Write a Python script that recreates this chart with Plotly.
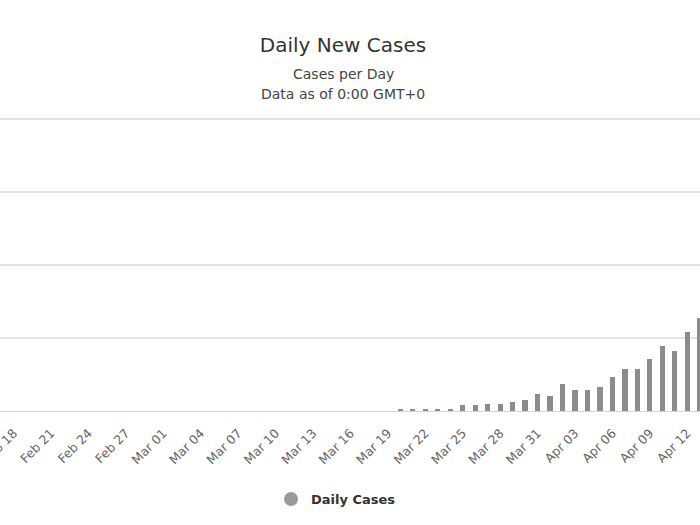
import plotly.graph_objects as go
import pandas as pd

dates = pd.date_range("2020-03-20", "2020-04-13", freq="D").strftime("%Y-%m-%d").tolist()
daily_cases = [23, 23, 23, 23, 23, 78, 78, 96, 96, 127, 147, 233, 201, 374, 288, 288,
               325, 466, 571, 571, 708, 886, 818, 1078, 1270]

series_name = "Daily Cases"
title_text = "Daily New Cases"
subtitle_lines = ["Cases per Day", "Data as of 0:00 GMT+0"]

FONT = "DejaVu Sans"
DAY_MS = 86400000
CX = 343 / 700

fig = go.Figure()
fig.add_trace(go.Bar(
    x=dates, y=daily_cases, name=series_name,
    marker=dict(color="#8c8c8c", line=dict(width=0)),
    width=0.42 * DAY_MS, showlegend=False,
))
fig.add_trace(go.Scatter(
    x=[None], y=[None], mode="markers", name=series_name,
    marker=dict(symbol="circle", size=14, color="#999999"),
    showlegend=True,
))

x0 = pd.Timestamp("2020-02-17") - pd.Timedelta(hours=2.2)
x1 = pd.Timestamp("2020-04-13") + pd.Timedelta(hours=0.5)

fig.update_layout(
    width=700, height=525,
    margin=dict(l=0, r=0, t=118, b=114, autoexpand=False),
    paper_bgcolor="white", plot_bgcolor="white",
    font=dict(family=FONT, color="#333333"),
    title=dict(text=title_text, x=CX, xanchor="center", y=1 - 45 / 525, yanchor="middle",
               yref="container", font=dict(size=20, color="#333333", family=FONT)),
    xaxis=dict(
        type="date", range=[x0, x1],
        tick0="2020-02-18", dtick=3 * DAY_MS, tickformat="%b %d",
        tickangle=-45, tickfont=dict(size=12.5, color="#666666", family=FONT),
        showgrid=False, showline=True, linecolor="#ccd6eb", linewidth=1,
        ticks="", ticklabelstandoff=9, zeroline=False,
        ticklabeloverflow="allow", automargin=False,
    ),
    yaxis=dict(
        range=[0, 4015], dtick=1000, showticklabels=False,
        showgrid=True, gridcolor="#e3e3e3", gridwidth=1.5, zeroline=False,
        fixedrange=True, automargin=False,
    ),
    legend=dict(orientation="h", x=0.48, xanchor="center", y=(411 - 499) / 293, yanchor="middle",
                font=dict(size=13, color="#333333", family=FONT, weight="bold"),
                bgcolor="rgba(0,0,0,0)"),
    bargap=0,
    showlegend=True,
)

for line, py in zip(subtitle_lines, [74, 94]):
    fig.add_annotation(text=line, xref="paper", yref="paper", x=CX, y=(411 - py) / 293,
                       xanchor="center", yanchor="middle", showarrow=False,
                       font=dict(size=14, color="#444444", family=FONT))

fig.write_html("out.html")
